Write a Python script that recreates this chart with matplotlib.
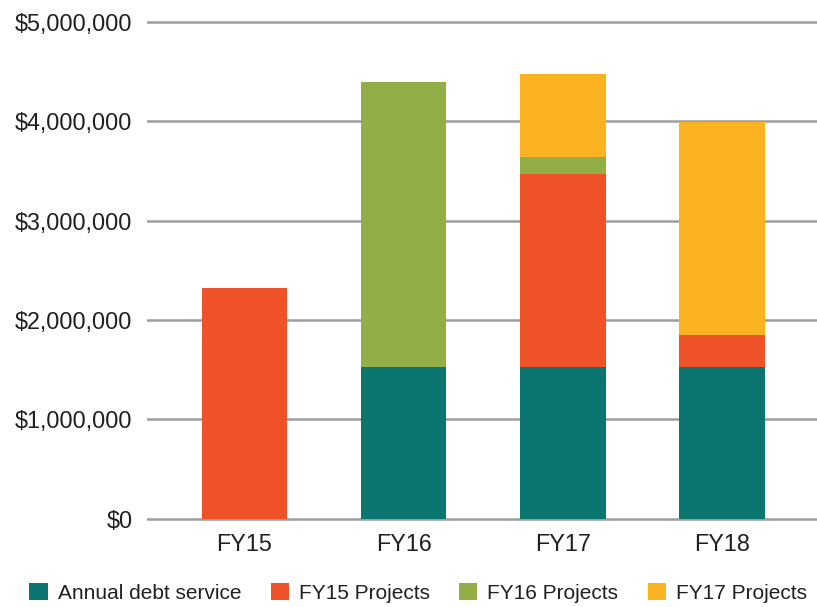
import numpy as np
import matplotlib.pyplot as plt
from matplotlib.ticker import FuncFormatter

plt.rcParams['font.family'] = ['Liberation Sans', 'DejaVu Sans']

years = ["FY15", "FY16", "FY17", "FY18"]
series_names = ["Annual debt service", "FY15 Projects", "FY16 Projects", "FY17 Projects"]
debt_service = [0, 1530000, 1530000, 1530000]
fy15_projects = [2320000, 0, 1940000, 320000]
fy16_projects = [0, 2870000, 170000, 0]
fy17_projects = [0, 0, 840000, 2140000]
colors = ["#0B7570", "#EF5228", "#92AE47", "#FBB322"]

fig = plt.figure(figsize=(8.17, 6.07), dpi=100)
ax = fig.add_axes([0.18, 0.1425, 0.82, 0.8375])

x = np.arange(len(years))
bottom = np.zeros(len(years))
for name, vals, c in zip(series_names,
                         [debt_service, fy15_projects, fy16_projects, fy17_projects],
                         colors):
    vals = np.array(vals, dtype=float)
    ax.bar(x, vals, 0.54, bottom=bottom, color=c, label=name, zorder=3)
    bottom += vals

ax.set_xlim(-0.613, 3.60)
ax.set_ylim(-20000, 5.1e6)
ax.set_yticks(np.arange(0, 5000001, 1000000))
ax.yaxis.set_major_formatter(FuncFormatter(lambda v, p: f"${v:,.0f}"))
ax.set_xticks(x)
ax.set_xticklabels(years)

for s in ax.spines.values():
    s.set_visible(False)
ax.grid(axis="y", color="#9D9D9F", linewidth=1.8, zorder=1)
ax.set_axisbelow(True)
ax.tick_params(axis="y", length=0, pad=10.5, labelsize=16.8, colors="#231F20")
ax.tick_params(axis="x", length=0, pad=9, labelsize=16.8, colors="#231F20")

fig.legend(loc="center left", bbox_to_anchor=(0.036, 0.023), ncol=4,
           frameon=False, fontsize=15, handlelength=0.87, handleheight=0.87,
           handletextpad=0.48, columnspacing=1.42, borderaxespad=0, borderpad=0,
           labelcolor="#231F20")

fig.savefig("out.png", dpi=100)
